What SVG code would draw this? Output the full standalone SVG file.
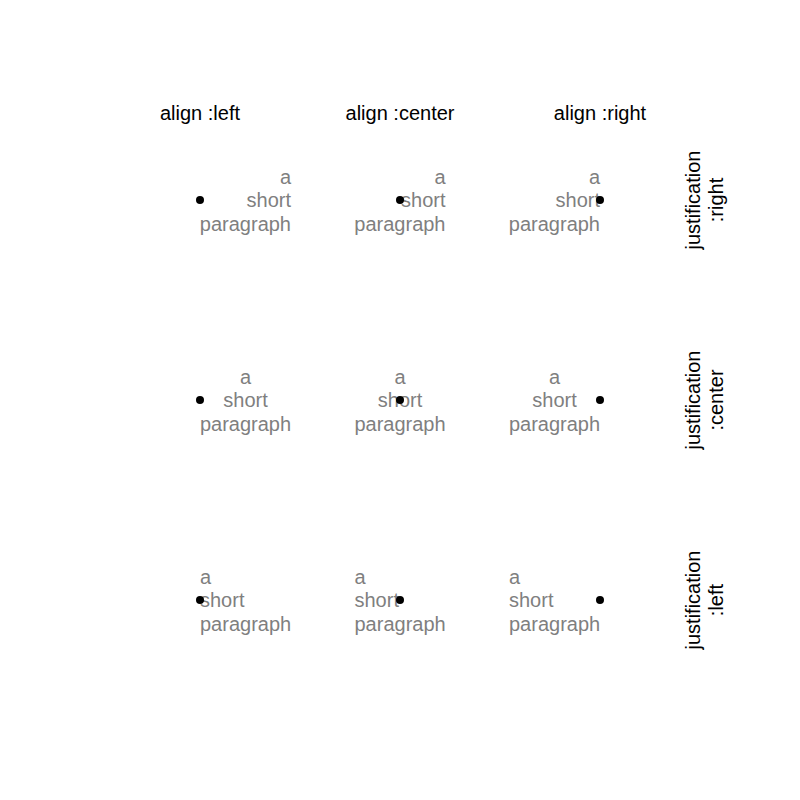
<svg xmlns="http://www.w3.org/2000/svg" width="800" height="800" viewBox="0 0 800 800">
<style>
.h{font-family:"Liberation Sans",Arial,sans-serif;font-size:20px;fill:#000}
.p{font-family:"Liberation Sans",Arial,sans-serif;font-size:20px;fill:#7f7f7f}
.d{fill:#000}
</style>
<rect width="800" height="800" fill="#fff"/>
<g id="headers" class="h" text-anchor="middle">
<text x="200" y="120">align :left</text>
<text x="400" y="120">align :center</text>
<text x="600" y="120">align :right</text>
</g>
<g id="row-labels" class="h" text-anchor="middle">
<text transform="translate(700,200) rotate(-90)"><tspan x="0" y="0">justification</tspan><tspan x="0" y="23">:right</tspan></text>
<text transform="translate(700,400) rotate(-90)"><tspan x="0" y="0">justification</tspan><tspan x="0" y="23">:center</tspan></text>
<text transform="translate(700,600) rotate(-90)"><tspan x="0" y="0">justification</tspan><tspan x="0" y="23">:left</tspan></text>
</g>
<!-- row 1: justification right -->
<g id="c11" class="p" text-anchor="end"><text x="291" y="184">a</text><text x="291" y="207">short</text><text x="291" y="231">paragraph</text><circle class="d" cx="200" cy="200" r="4"/></g>
<g id="c12" class="p" text-anchor="end"><text x="445.5" y="184">a</text><text x="445.5" y="207">short</text><text x="445.5" y="231">paragraph</text><circle class="d" cx="400" cy="200" r="4"/></g>
<g id="c13" class="p" text-anchor="end"><text x="600" y="184">a</text><text x="600" y="207">short</text><text x="600" y="231">paragraph</text><circle class="d" cx="600" cy="200" r="4"/></g>
<!-- row 2: justification center -->
<g id="c21" class="p" text-anchor="middle"><text x="245.5" y="384">a</text><text x="245.5" y="407">short</text><text x="245.5" y="431">paragraph</text><circle class="d" cx="200" cy="400" r="4"/></g>
<g id="c22" class="p" text-anchor="middle"><text x="400" y="384">a</text><text x="400" y="407">short</text><text x="400" y="431">paragraph</text><circle class="d" cx="400" cy="400" r="4"/></g>
<g id="c23" class="p" text-anchor="middle"><text x="554.5" y="384">a</text><text x="554.5" y="407">short</text><text x="554.5" y="431">paragraph</text><circle class="d" cx="600" cy="400" r="4"/></g>
<!-- row 3: justification left -->
<g id="c31" class="p" text-anchor="start"><text x="200" y="584">a</text><text x="200" y="607">short</text><text x="200" y="631">paragraph</text><circle class="d" cx="200" cy="600" r="4"/></g>
<g id="c32" class="p" text-anchor="start"><text x="354.5" y="584">a</text><text x="354.5" y="607">short</text><text x="354.5" y="631">paragraph</text><circle class="d" cx="400" cy="600" r="4"/></g>
<g id="c33" class="p" text-anchor="start"><text x="509" y="584">a</text><text x="509" y="607">short</text><text x="509" y="631">paragraph</text><circle class="d" cx="600" cy="600" r="4"/></g>
</svg>
